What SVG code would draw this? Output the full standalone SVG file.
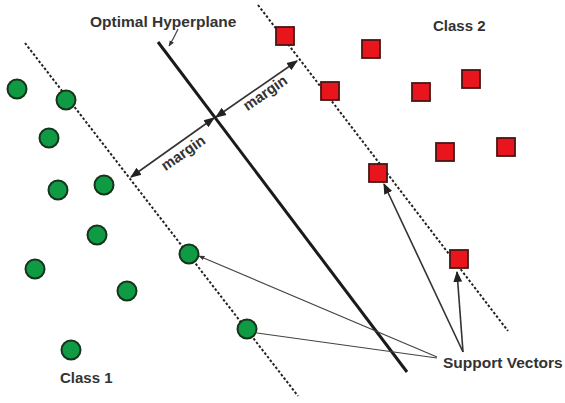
<svg xmlns="http://www.w3.org/2000/svg" width="565" height="403" viewBox="0 0 565 403">
<defs>
<style>
.t{font-family:"Liberation Sans",Arial,sans-serif;font-weight:bold;fill:#333;}
.c1 circle{fill:#0f9a44;stroke:#17331c;stroke-width:2;}
.c2 rect{fill:#e8151c;stroke:#4a1414;stroke-width:1.8;}
.dash{stroke:#222;stroke-width:2;stroke-dasharray:2.5,2;fill:none;}
.thin{stroke:#444;stroke-width:1.2;fill:none;}
.mid{stroke:#333;stroke-width:1.6;fill:none;}
</style>
<marker id="ahb" viewBox="0 0 10 10" refX="9" refY="5" markerWidth="11" markerHeight="11" orient="auto-start-reverse" markerUnits="userSpaceOnUse">
<path d="M0,1 L10,5 L0,9 z" fill="#222"/>
</marker>
<marker id="ahs" viewBox="0 0 10 10" refX="9" refY="5" markerWidth="6" markerHeight="6" orient="auto" markerUnits="userSpaceOnUse">
<path d="M0,1 L10,5 L0,9 z" fill="#333"/>
</marker>
</defs>
<rect width="565" height="403" fill="#fff"/>
<g id="connectors">
<line class="dash" x1="25" y1="43" x2="298" y2="396"/>
<line class="dash" x1="258" y1="5" x2="508" y2="331"/>
<line x1="158" y1="42" x2="407" y2="372" stroke="#1a1a1a" stroke-width="3"/>
<path class="thin" d="M178,29 Q174,38 169,46" marker-end="url(#ahs)"/>
<line class="mid" x1="131" y1="177" x2="214" y2="118" marker-start="url(#ahb)" marker-end="url(#ahb)"/>
<line class="mid" x1="216" y1="117" x2="297" y2="61" marker-start="url(#ahb)" marker-end="url(#ahb)"/>
<line class="thin" x1="437" y1="357" x2="199" y2="256" marker-end="url(#ahs)"/>
<line class="thin" x1="437" y1="358" x2="257" y2="333"/>
<line class="mid" x1="463" y1="352" x2="384" y2="184" marker-end="url(#ahb)"/>
<line class="mid" x1="463" y1="352" x2="457" y2="272" marker-end="url(#ahb)"/>
</g>
<g id="class1" class="c1">
<circle cx="17" cy="89" r="9.5"/>
<circle cx="66" cy="100" r="9.5"/>
<circle cx="49" cy="138" r="9.5"/>
<circle cx="58" cy="190" r="9.5"/>
<circle cx="104" cy="185" r="9.5"/>
<circle cx="97" cy="235" r="9.5"/>
<circle cx="35" cy="269" r="9.5"/>
<circle cx="127" cy="291" r="9.5"/>
<circle cx="189" cy="254" r="9.5"/>
<circle cx="247" cy="329" r="9.5"/>
<circle cx="71" cy="350" r="9.5"/>
</g>
<g id="class2" class="c2">
<rect x="276" y="27" width="18" height="18"/>
<rect x="362" y="40" width="18" height="18"/>
<rect x="321" y="82" width="18" height="18"/>
<rect x="412" y="83" width="18" height="18"/>
<rect x="462" y="70" width="18" height="18"/>
<rect x="436" y="143" width="18" height="18"/>
<rect x="497" y="138" width="18" height="18"/>
<rect x="369" y="164" width="18" height="18"/>
<rect x="450" y="250" width="18" height="18"/>
</g>
<g id="labels">
<text class="t" x="90" y="27" font-size="15.5">Optimal Hyperplane</text>
<text class="t" x="433" y="31" font-size="15">Class 2</text>
<text class="t" x="60" y="383" font-size="15">Class 1</text>
<text class="t" x="443" y="368" font-size="15.5">Support Vectors</text>
<text class="t" font-size="15" text-anchor="middle" transform="translate(186,157) rotate(-35)">margin</text>
<text class="t" font-size="15" text-anchor="middle" transform="translate(268,97) rotate(-35)">margin</text>
</g>
</svg>
